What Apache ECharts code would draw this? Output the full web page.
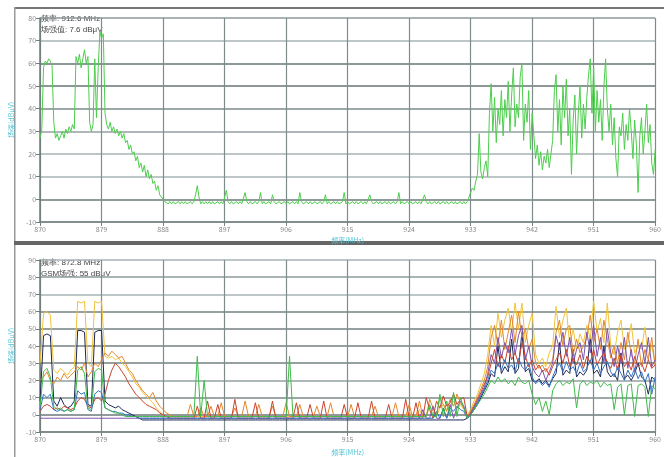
<!DOCTYPE html>
<html>
<head>
<meta charset="utf-8" />
<script src="https://cdn.jsdelivr.net/npm/echarts@6/dist/echarts.min.js"></script>
<style>
  html, body { margin: 0; padding: 0; background: #fff; }
  #main { width: 664px; height: 457px; filter: blur(0.4px); }
</style>
</head>
<body>
<div id="main"></div>
<script>
// frequency grid: x is MHz offset from 870, labels add it back
var startFreq = 870;
var topStep = 0.25;
var botStep = 0.5;
var xTickLabels = ['870', '879', '888', '897', '906', '915', '924', '933', '942', '951', '960'];

// upper panel, single sweep (dBμV)
var topVals = [
  27, 31, 58, 61, 60, 62, 61, 59, 34, 27, 29, 26, 28, 30, 27, 31, 29, 32, 30, 33,
  31, 63, 60, 64, 58, 62, 66, 60, 63, 34, 30, 33, 62, 36, 58, 74, 71, 73, 38, 33,
  31, 34, 30, 32, 29, 31, 28, 30, 27, 29, 25, 26, 22, 24, 20, 21, 17, 19, 14, 16,
  12, 15, 10, 13, 9, 11, 7, 8, 4, 6, 2, 1, 0, -1, -1, -2, -1, -2, -1, -2,
  -2, -1, -2, -1, -2, -1, -2, -2, -1, -2, -1, 2, 6, 1, -2, -1, -2, -1, -2, -1,
  -2, -1, -2, -2, -1, -2, -1, -2, 1, 4, -1, -2, -1, -2, -2, -1, -2, -1, -2, -2,
  3, -1, -2, -1, -2, -2, -1, -2, -1, 3, -2, -1, -2, -2, -1, -2, 2, -1, -2, -2,
  -1, -2, -2, -1, -2, -1, -2, -2, -1, -2, -1, -2, 3, -1, -2, -2, -1, -2, -1, -2,
  -2, -1, -2, -2, -1, -2, -1, 2, -2, -1, -2, -2, -1, -2, -1, -2, -2, -1, 3, -2,
  -1, -2, -2, -1, -2, -1, -2, -2, -1, -2, -1, -2, -2, 2, -1, -2, -2, -1, -2, -1,
  -2, -2, -1, -2, -1, -2, -2, -1, -2, -1, 3, -2, -1, -2, -2, -1, -2, -1, -2, -2,
  -1, -2, -1, -2, -2, 2, -1, -2, -1, -2, -2, -1, -2, -1, -2, -2, -1, -2, -1, -2,
  -2, -1, -2, -1, -2, -2, -1, -2, -1, -2, -1, 1, 3, 5, 4, 8, 11, 29, 12, 9,
  14, 17, 10, 38, 51, 30, 45, 25, 40, 33, 48, 28, 44, 36, 52, 30, 46, 58, 32, 42,
  36, 54, 60, 26, 42, 34, 48, 22, 38, 28, 18, 24, 15, 21, 13, 19, 16, 22, 14, 20,
  26, 48, 55, 30, 44, 24, 50, 36, 53, 28, 40, 11, 35, 46, 20, 38, 50, 27, 42, 31,
  45, 55, 62, 38, 58, 30, 48, 34, 44, 26, 50, 62, 40, 30, 42, 24, 36, 18, 10, 32,
  28, 38, 22, 33, 26, 40, 30, 18, 35, 24, 3, 28, 36, 20, 30, 42, 25, 33, 16, 11, 22
];

// lower panel, several traces (dBμV), 0.5 MHz apart
var botNavy = [
  8, 46, 47, 46, 8, 5, 10, 6, 4, 5,
  8, 49, 49, 48, 6, 5, 48, 49, 49, 8,
  6, 5, 4, 5, 3, 2, 1, 0, -1, -2,
  -3, -3, -3, -3, -3, -3, -3, -3, -3, -3,
  -3, -3, -3, -3, -3, -3, -3, -3, -3, -3,
  -3, -3, -3, -3, -3, -3, -3, -3, -3, -3,
  -3, -3, -3, -3, -3, -3, -3, -3, -3, -3,
  -3, -3, -3, -3, -3, -3, -3, -3, -3, -3,
  -3, -3, -3, -3, -3, -3, -3, -3, -3, -3,
  -3, -3, -3, -3, -3, -3, -3, -3, -3, -3,
  -3, -3, -3, -3, -3, -3, -3, -3, -3, -3,
  -3, -3, -3, -3, -3, -3, -3, -3, -3, -3,
  -3, -3, -3, -3, -3,
  -2, 0, 3, 6, 10, 14, 18, 24, 22, 40,
  24, 28, 25, 44, 24, 27, 48, 25, 27, 20,
  19, 21, 18, 20, 17, 21, 24, 42, 23, 26,
  24, 38, 22, 25, 23, 26, 45, 24, 26, 22,
  40, 25, 22, 24, 20, 36, 21, 23, 20, 24,
  30, 22, 20, 12, 22, 20
];
var botYellow = [
  30, 59, 60, 58, 26, 24, 27, 25, 23, 26,
  28, 66, 65, 66, 30, 28, 66, 65, 66, 34,
  33, 34, 32, 33, 30, 28, 25, 22, 18, 16,
  13, 11, 9, 7, 4, 2, 0, -1, -1, -1,
  -1, -1, -1, -1, -1, -1, -1, -1, -1, -1,
  -1, -1, -1, -1, -1, -1, -1, -1, -1, -1,
  -1, -1, -1, -1, -1, -1, -1, -1, -1, -1,
  -1, -1, -1, -1, -1, -1, -1, -1, -1, -1,
  -1, -1, -1, -1, -1, -1, -1, -1, -1, -1,
  -1, -1, -1, -1, -1, -1, -1, -1, -1, -1,
  -1, -1, -1, -1, -1, -1, -1, -1, 2, -1,
  -1, 3, -1, -1, 5, 2, -1, 4, 6, 3,
  5, 8, 4, 6, 3,
  0, 3, 8, 12, 18, 24, 35, 52, 40, 59,
  45, 55, 62, 48, 65, 50, 65, 42, 52, 59,
  35, 30, 33, 28, 36, 40, 63, 45, 55, 62,
  40, 50, 38, 47, 42, 52, 44, 66, 48, 56,
  42, 65, 40, 35, 48, 55, 38, 42, 53, 36,
  40, 38, 51, 34, 40, 30
];
var botOrange = [
  20, 22, 25, 20, 18, 22, 20, 24, 21, 23,
  25, 28, 26, 30, 22, 25, 30, 28, 32, 36,
  34, 37, 35, 33, 34, 30, 26, 24, 20, 17,
  14, 12, 10, 13, 8, 5, 3, 1, 0, -1,
  -1, -1, -1, -1, 6, -1, -1, 4, -1, -1,
  5, -1, -1, 7, -1, -1, -1, 4, -1, -1,
  8, -1, -1, -1, 6, -1, -1, -1, 5, -1,
  -1, -1, 7, -1, -1, -1, 6, -1, -1, -1,
  -1, 5, -1, -1, -1, 7, -1, -1, -1, -1,
  -1, 6, -1, -1, -1, -1, -1, -1, 5, -1,
  -1, -1, -1, -1, 7, -1, -1, -1, 6, -1,
  -1, 8, -1, -1, 9, 4, -1, 10, 6, 2,
  9, 5, 12, 7, 4,
  -1, 2, 6, 10, 15, 20, 28, 45, 52, 40,
  55, 38, 48, 58, 42, 60, 45, 50, 38, 44,
  30, 27, 29, 25, 28, 32, 48, 55, 40, 50,
  52, 35, 44, 36, 40, 45, 58, 42, 50, 38,
  55, 44, 33, 40, 30, 42, 32, 48, 35, 30,
  44, 28, 38, 32, 45, 28
];
var botPurple = [
  -2, -2, -2, -2, -2, -2, -2, -2, -2, -2,
  -2, -2, -2, -2, -2, -2, -2, -2, -2, -2,
  -2, -2, -2, -2, -2, -2, -2, -2, -2, -2,
  -2, -2, -2, -2, -2, -2, -2, -2, -2, -2,
  -2, -2, -2, -2, -2, -2, -2, -2, -2, -2,
  -2, -2, -2, -2, -2, -2, -2, -2, -2, -2,
  -2, -2, -2, -2, -2, -2, -2, -2, -2, -2,
  -2, -2, -2, -2, -2, -2, -2, -2, -2, -2,
  -2, -2, -2, -2, -2, -2, -2, -2, -2, -2,
  -2, -2, -2, -2, -2, -2, -2, -2, -2, -2,
  -2, -2, -2, -2, -2, -2, -2, -2, -2, -2,
  -2, -2, 3, -2, -2, 5, -2, -2, 4, -2,
  6, -2, 4, 8, 5,
  -2, 1, 4, 8, 12, 16, 24, 35, 30, 45,
  33, 42, 36, 50, 35, 46, 52, 32, 40, 28,
  24, 22, 26, 20, 25, 30, 46, 38, 48, 34,
  45, 30, 38, 42, 32, 48, 36, 52, 34, 45,
  30, 50, 36, 28, 40, 30, 45, 27, 38, 25,
  35, 42, 30, 45, 28, 32
];
var botRed = [
  2, 5, 6, 5, 3, 4, 3, 5, 4, 3,
  4, 8, 10, 9, 5, 4, 9, 10, 8, 12,
  20, 26, 30, 28, 25, 22, 18, 15, 12, 10,
  8, 6, 5, 4, 3, 1, 0, -1, -2, -2,
  -2, -2, -2, -2, -2, -2, 5, -2, -2, 8,
  -2, -2, 6, -2, -2, -2, -2, 9, -2, -2,
  -2, -2, -2, 7, -2, -2, -2, -2, 8, -2,
  -2, -2, -2, -2, -2, 7, -2, -2, -2, 6,
  -2, -2, -2, 8, -2, -2, -2, -2, -2, 6,
  -2, -2, -2, 7, -2, -2, -2, 8, -2, -2,
  -2, -2, 6, -2, -2, -2, -2, 9, -2, -2,
  7, -2, -2, 10, 3, -2, 8, 4, 11, 5,
  7, 12, 6, 9, 10,
  -1, 1, 5, 9, 13, 18, 22, 30, 38, 28,
  35, 30, 40, 32, 36, 30, 42, 34, 28, 32,
  26, 29, 25, 27, 23, 28, 32, 36, 30, 38,
  28, 33, 29, 35, 27, 34, 30, 38, 29, 33,
  36, 30, 27, 33, 26, 35, 28, 31, 26, 34,
  28, 30, 25, 32, 27, 29
];
var botBlue = [
  3, 12, 10, 12, 3, 2, 3, 2, 3, 2,
  3, 14, 12, 13, 3, 2, 12, 14, 13, 4,
  3, 2, 2, 1, 1, 0, 0, -1, -1, -2,
  -2, -2, -2, -2, -2, -2, -2, -2, -2, -2,
  -2, -2, -2, -2, -2, -2, -2, -2, -2, -2,
  -2, -2, -2, -2, -2, -2, -2, -2, -2, -2,
  -2, -2, -2, -2, -2, -2, -2, -2, -2, -2,
  -2, -2, -2, -2, -2, -2, -2, -2, -2, -2,
  -2, -2, -2, -2, -2, -2, -2, -2, -2, -2,
  -2, -2, -2, -2, -2, -2, -2, -2, -2, -2,
  -2, -2, -2, -2, -2, -2, -2, -2, -2, -2,
  -2, -2, -2, -2, -2, -2, 2, -2, 3, -2,
  4, 2, 5, 3, 2,
  -2, 0, 4, 7, 11, 15, 20, 26, 24, 30,
  26, 32, 27, 29, 25, 33, 28, 26, 30, 22,
  18, 20, 17, 19, 16, 22, 27, 30, 25, 31,
  26, 28, 24, 30, 25, 27, 32, 26, 30, 24,
  28, 31, 25, 22, 28, 24, 20, 26, 22, 27,
  21, 25, 19, 24, 12, 22
];
var botGreen = [
  5, 25, 27, 22, 5, 3, 4, 2, 3, 2,
  3, 26, 28, 24, 4, 3, 25, 27, 26, 4,
  3, 2, 1, 1, 0, -1, -1, -1, -1, -1,
  -1, -1, -1, -1, -1, -1, -1, -1, -1, -1,
  -1, -1, -1, -1, -1, -1, 34, -1, 20, -1,
  -1, -1, -1, -1, -1, -1, -1, -1, -1, -1,
  -1, -1, -1, -1, -1, -1, -1, -1, -1, -1,
  -1, -1, -1, 34, -1, -1, -1, -1, -1, -1,
  -1, -1, -1, -1, -1, -1, -1, -1, -1, -1,
  -1, -1, -1, -1, -1, -1, -1, -1, -1, -1,
  -1, -1, -1, -1, -1, -1, -1, -1, -1, -1,
  -1, -1, -1, -1, 6, -1, -1, 12, -1, 8,
  -1, 13, -1, 10, 4,
  -2, 0, 3, 6, 9, 12, 16, 20, 18, 22,
  19, 21, 18, 20, 17, 22, 19, 18, 20, 12,
  6, 10, 2, 8, 0, 14, 18, 20, 17, 19,
  18, 21, 4, 18, 20, 17, 19, 18, 20, 16,
  19, 17, 18, 3, 16, 18, 0, 17, 18, -1,
  17, 18, 16, -1, 17, 15
];

var topNote = ['频率: 912.6 MHz', '场强值: 7.6 dBμV'];
var botNote = ['频率: 872.8 MHz', 'GSM场强: 55 dBμV'];

function pairs(vals, step) {
  return vals.map(function (v, i) { return [i * step, v]; });
}

var cyan = '#55c4d6';
var gridCol = '#7f8c8c';

function makeX(idx) {
  return {
    type: 'value', gridIndex: idx, min: 0, max: 90, interval: 9,
    axisLine: { show: true, onZero: false, lineStyle: { color: '#758282', width: 1.5 } },
    axisTick: { show: true, length: 4, lineStyle: { color: '#758282' } },
    axisLabel: {
      fontSize: 7, color: '#8a8a8a', margin: 4,
      formatter: function (v) { return xTickLabels[Math.round(v / 9)]; }
    },
    splitLine: { show: true, lineStyle: { color: gridCol, width: 1.2 } },
    name: '频率(MHz)', nameLocation: 'middle', nameGap: idx === 0 ? 15 : 17,
    nameTextStyle: { color: cyan, fontSize: 7 }
  };
}

function makeY(idx, maxV, cols) {
  return {
    type: 'value', gridIndex: idx, min: -10, max: maxV, interval: 10,
    axisLine: { show: true, lineStyle: { color: '#6e7b7b', width: 1.5 } },
    axisTick: { show: true, length: 4, lineStyle: { color: '#6e7b7b' } },
    axisLabel: { fontSize: 7, color: '#8a8a8a', margin: 4 },
    splitLine: { show: true, lineStyle: { color: cols, width: 1.5 } },
    name: '场强(dBμV)', nameLocation: 'middle', nameGap: 18, nameRotate: 90,
    nameTextStyle: { color: cyan, fontSize: 7 }
  };
}

function trace(vals, color, z) {
  return {
    type: 'line', xAxisIndex: 1, yAxisIndex: 1, data: pairs(vals, botStep),
    symbol: 'none', z: z, lineStyle: { color: color, width: 1 }
  };
}

var myChart = echarts.init(document.getElementById('main'));

var option = {
  animation: false,
  textStyle: { fontFamily: 'Noto Sans CJK SC, sans-serif' },
  grid: [
    { left: 37, top: 18, width: 621, height: 204 },
    { left: 37, top: 260, width: 621, height: 172 }
  ],
  xAxis: [makeX(0), makeX(1)],
  yAxis: [
    makeY(0, 80, ['#8c9a9a', '#6c7979', '#a9b5b5', '#a9b5b5', '#93a0a0', '#7d8a8a', '#687575', '#687575', '#a9b5b5', '#8c9a9a']),
    makeY(1, 90, ['#8c9a9a', '#6c7979', '#7d8a8a', '#93a0a0', '#748181', '#748181', '#748181', '#748181', '#a9b5b5', '#8c9a9a', '#a9b5b5'])
  ],
  series: [
    {
      type: 'line', xAxisIndex: 0, yAxisIndex: 0, data: pairs(topVals, topStep),
      symbol: 'none', lineStyle: { color: '#4ccd4c', width: 1 }
    },
    trace(botNavy, '#1d2752', 2),
    trace(botYellow, '#f0c33a', 3),
    trace(botOrange, '#e2862c', 4),
    trace(botPurple, '#7d52b0', 5),
    trace(botRed, '#c8432e', 6),
    trace(botBlue, '#3373c4', 7),
    trace(botGreen, '#3fba4a', 8)
  ],
  graphic: [
    { type: 'rect', shape: { x: 14, y: 7, width: 650, height: 2 }, style: { fill: '#777' } },
    { type: 'rect', shape: { x: 14, y: 7, width: 1.5, height: 450 }, style: { fill: '#9a9a9a' } },
    { type: 'rect', shape: { x: 14, y: 241, width: 650, height: 4 }, style: { fill: '#666' } },
    { type: 'text', left: 41, top: 15, style: { text: topNote[0], fontSize: 8, fill: '#444', font: '8px "Noto Sans CJK SC"' } },
    { type: 'text', left: 41, top: 26, style: { text: topNote[1], fontSize: 8, fill: '#444', font: '8px "Noto Sans CJK SC"' } },
    { type: 'text', left: 41, top: 259, style: { text: botNote[0], fontSize: 8, fill: '#444', font: '8px "Noto Sans CJK SC"' } },
    { type: 'text', left: 41, top: 270, style: { text: botNote[1], fontSize: 8, fill: '#444', font: '8px "Noto Sans CJK SC"' } }
  ]
};

myChart.setOption(option);
</script>
</body>
</html>
